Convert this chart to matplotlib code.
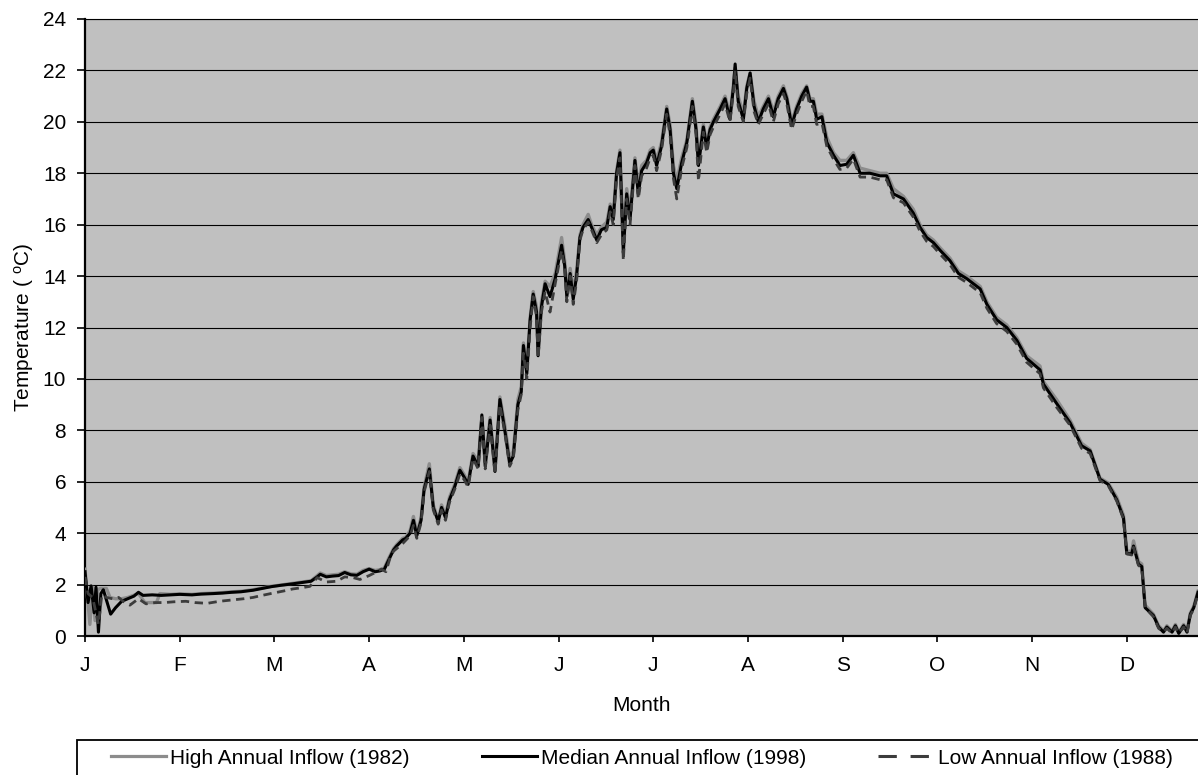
import matplotlib
matplotlib.use('Agg')
import matplotlib.pyplot as plt
from matplotlib.lines import Line2D
from matplotlib.patches import Rectangle

plt.rcParams['font.family'] = ['Liberation Sans', 'DejaVu Sans']
plt.rcParams['mathtext.fontset'] = 'custom'
plt.rcParams['mathtext.rm'] = 'Liberation Sans'

# month tick labels (one tick every 31 day-steps, as in the source chart)
month_labels = ['J', 'F', 'M', 'A', 'M', 'J', 'J', 'A', 'S', 'O', 'N', 'D']
month_ticks = [0, 31, 62, 93, 124, 155, 186, 217, 248, 279, 310, 341]

# Median annual inflow (1998)
med_day = [0, 1, 2, 3, 3.6, 4.4, 5.2, 6, 7, 8.4, 10, 12, 14, 16, 17.5, 19, 22, 25, 28,
           31, 35, 38, 42, 45, 48, 51, 55, 58, 61, 64, 68, 71, 74, 76, 77, 79, 81, 83, 85,
           87, 89, 91, 93, 95, 96.5, 98, 99.3, 101, 102, 104, 105, 106.4, 107.5, 108.6, 110,
           111, 112.7, 114, 115.6, 116.7, 118, 119.3, 121, 122.7, 124, 125.4, 127, 128.7,
           129.9, 131, 132.6, 134.2, 135.8, 137.4, 139, 140.2, 141.7, 142.8, 143.5, 144.6,
           145.7, 146.7, 147.8, 148.3, 149.4, 150.6, 152.2, 153.9, 156, 157, 157.7, 158.8,
           159.8, 160.9, 162, 163, 164.7, 165.8, 167.5, 169, 170.8, 171.9, 172.9, 174, 175.1,
           176.2, 177.3, 178.4, 180, 181.1, 182.2, 183.8, 185, 186, 187.1, 188.7, 190.4,
           191.5, 192.6, 193.7, 195.3, 197, 198.8, 200, 200.8, 202.4, 203.5, 204.6, 205.7,
           207.9, 209.5, 211.1, 212.2, 212.8, 213.8, 215.5, 216.6, 217.7, 219, 220.4, 222,
           223.7, 225.3, 226.9, 228.6, 229.7, 231.3, 232.9, 234.6, 236.2, 237.3, 238.4, 239.5,
           241.2, 242.8, 245, 247.1, 249.3, 251.5, 253.7, 256.9, 260.2, 262.4, 264.6, 267.9,
           271.1, 273.3, 275.5, 277.7, 279.9, 283.1, 285.9, 288.6, 293, 295.2, 298.4, 301.7,
           305, 308.2, 312.6, 313.7, 318, 322.4, 326.2, 329, 332.2, 334.9, 337.7, 339.9, 341,
           342.6, 343.2, 344.8, 345.9, 347, 349.7, 351.4, 353, 354.1, 355.8, 356.9, 358,
           359.6, 360.7, 361.8, 362.9, 364.3]
med_temp = [2.5, 1.3, 1.95, 0.9, 1.9, 0.15, 1.65, 1.8, 1.4, 0.85, 1.1, 1.35, 1.45, 1.55, 1.7,
            1.58, 1.6, 1.58, 1.6, 1.62, 1.6, 1.63, 1.65, 1.67, 1.7, 1.72, 1.78, 1.85, 1.92,
            1.97, 2.03, 2.08, 2.13, 2.3, 2.4, 2.3, 2.33, 2.35, 2.47, 2.38, 2.36, 2.5, 2.6, 2.5,
            2.53, 2.6, 2.93, 3.35, 3.5, 3.74, 3.8, 4.0, 4.5, 3.9, 4.5, 5.7, 6.5, 5.0, 4.45,
            5.0, 4.6, 5.3, 5.8, 6.45, 6.2, 5.9, 7.0, 6.6, 8.6, 6.6, 8.4, 6.4, 9.2, 8.0, 6.7,
            7.0, 9.0, 9.5, 11.3, 10.2, 12.3, 13.3, 12.6, 10.9, 12.8, 13.7, 13.2, 13.9, 15.2,
            14.4, 13.2, 14.1, 13.1, 14.0, 15.5, 15.9, 16.2, 15.9, 15.4, 15.8, 15.9, 16.7, 16.2,
            18.0, 18.8, 14.9, 17.2, 16.2, 18.5, 17.2, 18.1, 18.4, 18.8, 18.9, 18.3, 19.05,
            20.5, 19.7, 18.0, 17.4, 18.4, 19.2, 20.8, 19.7, 18.3, 19.8, 19.0, 19.7, 20.0,
            20.5, 20.9, 20.1, 21.3, 22.25, 20.8, 20.1, 21.3, 21.9, 20.6, 20.0, 20.5, 20.9,
            20.2, 20.9, 21.3, 20.9, 19.85, 20.5, 21.0, 21.35, 20.8, 20.8, 20.1, 20.2, 19.2,
            18.7, 18.3, 18.35, 18.7, 18.0, 18.0, 17.9, 17.9, 17.2, 17.0, 16.45, 15.9, 15.5,
            15.3, 15.0, 14.6, 14.1, 13.9, 13.5, 12.9, 12.3, 12.0, 11.5, 10.8, 10.35, 9.8, 9.05,
            8.3, 7.4, 7.2, 6.1, 5.9, 5.3, 4.6, 3.2, 3.2, 3.5, 2.8, 2.7, 1.1, 0.8, 0.35, 0.15,
            0.35, 0.15, 0.4, 0.1, 0.4, 0.15, 0.85, 1.1, 1.7]

# High annual inflow (1982)
high_day = [0, 1.6, 2.5, 3.3, 4.2, 5, 7, 8.2, 10, 12, 14, 17.5, 19.6, 23.4, 24.5, 28,
            31, 35, 38, 42, 45, 48, 51, 55, 58, 61, 64, 68, 71, 74, 76, 77, 79, 81, 83, 85,
            87, 89, 91, 93, 95, 96.5, 98, 99.3, 101, 102, 104, 105, 106.4, 107.5, 108.6, 110,
            111, 112.7, 114, 115.6, 116.7, 118, 119.3, 121, 122.7, 124, 125.4, 127, 128.7,
            129.9, 131, 132.6, 134.2, 135.8, 137.4, 139, 140.2, 141.7, 142.8, 143.5, 144.6,
            145.7, 146.7, 147.8, 148.3, 149.4, 150.6, 152.2, 153.9, 156, 157, 157.7, 158.8,
            159.8, 160.9, 162, 163, 164.7, 165.8, 167.5, 169, 170.8, 171.9, 172.9, 174, 175.1,
            176.2, 177.3, 178.4, 180, 181.1, 182.2, 183.8, 185, 186, 187.1, 188.7, 190.4,
            191.5, 192.6, 193.7, 195.3, 197, 198.8, 200, 200.8, 202.4, 203.5, 204.6, 205.7,
            207.9, 209.5, 211.1, 212.2, 212.8, 213.8, 215.5, 216.6, 217.7, 219, 220.4, 222,
            223.7, 225.3, 226.9, 228.6, 229.7, 231.3, 232.9, 234.6, 236.2, 237.3, 238.4, 239.5,
            241.2, 242.8, 245, 247.1, 249.3, 251.5, 253.7, 256.9, 260.2, 262.4, 264.6, 267.9,
            271.1, 273.3, 275.5, 277.7, 279.9, 283.1, 285.9, 288.6, 293, 295.2, 298.4, 301.7,
            305, 308.2, 312.6, 313.7, 318, 322.4, 326.2, 329, 332.2, 334.9, 337.7, 339.9, 341,
            342.6, 343.2, 344.8, 345.9, 347, 349.7, 351.4, 353, 354.1, 355.8, 356.9, 358,
            359.6, 360.7, 361.8, 362.9, 364.3]
high_temp = [2.6, 0.45, 1.9, 0.6, 1.8, 1.85, 1.85, 1.5, 1.45, 1.45, 1.5, 1.65, 1.3, 1.3, 1.65,
             1.62, 1.64, 1.62, 1.65, 1.67, 1.69, 1.72, 1.74, 1.8, 1.87, 1.93, 1.98, 2.05, 2.1,
             2.15, 2.35, 2.45, 2.35, 2.38, 2.4, 2.5, 2.42, 2.4, 2.55, 2.62, 2.55, 2.58, 2.65,
             3.0, 3.4, 3.55, 3.8, 3.85, 4.1, 4.65, 4.0, 4.6, 5.8, 6.7, 5.1, 4.5, 5.1, 4.7, 5.4,
             5.9, 6.55, 6.3, 6.0, 7.1, 6.8, 8.5, 6.8, 8.5, 6.6, 9.3, 8.2, 6.9, 7.2, 9.2, 9.7,
             11.4, 10.4, 12.4, 13.4, 12.8, 11.2, 13.0, 13.8, 13.6, 14.1, 15.5, 14.6, 13.5, 14.3,
             13.4, 14.2, 15.6, 16.0, 16.4, 16.0, 15.6, 15.9, 16.1, 16.8, 16.4, 18.1, 18.9, 15.3,
             17.4, 16.5, 18.6, 17.5, 18.3, 18.5, 18.9, 19.0, 18.5, 19.2, 20.6, 19.9, 18.3, 17.7,
             18.6, 19.3, 20.9, 19.9, 18.5, 19.9, 19.2, 19.8, 20.1, 20.6, 21.0, 20.3, 21.4, 22.1,
             21.0, 20.3, 21.4, 21.9, 20.8, 20.2, 20.6, 21.0, 20.4, 21.0, 21.4, 21.0, 20.0, 20.6,
             21.1, 21.4, 20.9, 20.9, 20.3, 20.3, 19.4, 18.8, 18.5, 18.5, 18.8, 18.2, 18.1, 18.0,
             18.0, 17.4, 17.1, 16.6, 16.0, 15.6, 15.4, 15.1, 14.7, 14.2, 14.0, 13.6, 13.0, 12.4,
             12.1, 11.6, 10.9, 10.5, 9.9, 9.2, 8.4, 7.5, 7.25, 6.15, 5.95, 5.4, 4.7, 3.3, 3.3,
             3.7, 2.9, 2.8, 1.2, 0.85, 0.4, 0.2, 0.4, 0.2, 0.45, 0.15, 0.45, 0.2, 0.9, 1.15,
             1.75]

# Low annual inflow (1988)
low_day = [0, 1, 2.5, 4.4, 5.5, 7, 9, 11, 13, 14.7, 17.5, 20, 23, 26, 29, 33, 36, 40, 44,
           48, 52, 55, 58, 61.6, 65, 68, 71, 73.6, 76, 79, 82.4, 85, 87.8, 90, 93, 95, 97,
           98.5, 100, 101, 104, 106.4, 107.5, 108.6, 110, 111, 112.7, 114, 115.6, 116.7, 118,
           119.3, 121, 122.7, 124, 125.4, 127, 128.7, 129.9, 131, 132.6, 134.2, 135.8, 137.4,
           139, 140.2, 141.7, 142.8, 143.5, 144.6, 145.7, 146.7, 147.8, 148.3, 149.4, 150.6,
           152.2, 153.9, 156, 157, 157.7, 158.8, 159.8, 160.9, 162, 163, 164.7, 165.8, 167.5,
           169, 170.8, 171.9, 172.9, 174, 175.1, 176.2, 177.3, 178.4, 180, 181.1, 182.2, 183.8,
           185, 186, 187.1, 188.7, 190.4, 191.5, 192.6, 193.7, 195.3, 197, 198.8, 200, 200.8,
           202.4, 203.5, 204.6, 205.7, 207.9, 209.5, 211.1, 212.2, 212.8, 213.8, 215.5, 216.6,
           217.7, 219, 220.4, 222, 223.7, 225.3, 226.9, 228.6, 229.7, 231.3, 232.9, 234.6,
           236.2, 237.3, 238.4, 239.5, 241.2, 242.8, 245, 247.1, 249.3, 251.5, 253.7, 256.9,
           260.2, 262.4, 264.6, 267.9, 271.1, 273.3, 275.5, 277.7, 279.9, 283.1, 285.9, 288.6,
           293, 295.2, 298.4, 301.7, 305, 308.2, 312.6, 313.7, 318, 322.4, 326.2, 329, 332.2,
           334.9, 337.7, 339.9, 341, 342.6, 343.2, 344.8, 345.9, 347, 349.7, 351.4, 353, 354.1,
           355.8, 356.9, 358, 359.6, 360.7, 361.8, 362.9, 364.3]
low_temp = [2.3, 1.65, 1.5, 0.45, 1.6, 1.5, 1.45, 1.5, 1.3, 1.2, 1.45, 1.25, 1.3, 1.3, 1.33,
            1.35, 1.3, 1.27, 1.35, 1.4, 1.45, 1.5, 1.58, 1.67, 1.75, 1.83, 1.88, 1.93, 2.27,
            2.1, 2.13, 2.3, 2.27, 2.2, 2.35, 2.47, 2.6, 2.5, 3.1, 3.3, 3.6, 3.9, 4.3, 3.8, 4.4,
            5.6, 6.4, 4.9, 4.35, 4.9, 4.5, 5.2, 5.7, 6.3, 6.1, 5.8, 6.9, 6.5, 8.5, 6.5, 8.2,
            6.3, 9.0, 7.9, 6.6, 6.9, 8.8, 9.4, 11.0, 10.0, 12.0, 13.2, 12.4, 10.8, 12.6, 13.4,
            12.6, 13.7, 15.0, 14.3, 13.0, 14.0, 12.9, 13.8, 15.4, 15.8, 16.1, 15.8, 15.3, 15.6,
            15.8, 16.5, 16.0, 17.8, 18.6, 14.6, 17.0, 16.0, 18.3, 17.0, 17.9, 18.2, 18.6, 18.7,
            18.1, 18.9, 20.3, 19.5, 17.8, 17.0, 18.2, 19.0, 20.6, 19.5, 17.7, 19.6, 18.8, 19.5,
            19.8, 20.3, 20.7, 20.0, 21.1, 22.0, 20.6, 20.0, 21.1, 21.7, 20.4, 19.9, 20.3, 20.7,
            20.0, 20.7, 21.1, 20.7, 19.7, 20.3, 20.8, 21.2, 20.6, 20.6, 19.9, 19.95, 19.05,
            18.55, 18.15, 18.2, 18.55, 17.85, 17.85, 17.75, 17.75, 17.05, 16.85, 16.3, 15.75,
            15.35, 15.15, 14.85, 14.45, 13.95, 13.75, 13.35, 12.75, 12.15, 11.85, 11.35, 10.65,
            10.2, 9.65, 8.9, 8.2, 7.3, 7.1, 6.05, 5.85, 5.25, 4.55, 3.2, 3.15, 3.45, 2.75,
            2.65, 1.1, 0.75, 0.3, 0.15, 0.3, 0.1, 0.35, 0.1, 0.35, 0.1, 0.8, 1.05, 1.65]

fs = 15
fig = plt.figure(figsize=(11.98, 7.75), dpi=100)
ax = fig.add_axes([85 / 1198, 1 - 636 / 775, 1 - 85 / 1198, 617 / 775])
ax.set_facecolor('#c0c0c0')

ax.plot(high_day, high_temp, color='#8c8c8c', lw=2.4, zorder=3)
ax.plot(med_day, med_temp, color='black', lw=2.2, zorder=4)
ax.plot(low_day, low_temp, color='#3c3c3c', lw=2.0, ls=(0, (3, 2)), zorder=5)

ax.set_xlim(0, 364.3)
ax.set_ylim(0, 24)
ax.set_yticks(range(0, 25, 2))
ax.set_xticks(month_ticks)
ax.set_xticklabels(month_labels)
ax.yaxis.grid(True, color='black', lw=0.8)
ax.set_axisbelow(True)

ax.spines['right'].set_visible(False)
ax.spines['top'].set_linewidth(0.8)
ax.spines['left'].set_linewidth(1.6)
ax.spines['bottom'].set_linewidth(1.6)
ax.tick_params(axis='y', length=5.5, width=1.2, pad=8, labelsize=fs)
ax.tick_params(axis='x', length=4.5, width=1.2, pad=10, labelsize=fs)

ax.set_xlabel('Month', fontsize=fs)
ax.xaxis.set_label_coords(0.5, -0.097)
ax.set_ylabel('Temperature ( $\\mathregular{^{o}}$C)', fontsize=fs)
ax.yaxis.set_label_coords(-0.044, 0.5)

# legend box (runs off the bottom/right of the picture like the source)
fig.patches.append(Rectangle((76.5 / 1198, -0.05), 1.0, 0.05 + 35 / 775,
                             transform=fig.transFigure, fill=False,
                             edgecolor='black', lw=1.3, clip_on=False))

handles = [Line2D([], [], color='#8c8c8c', lw=2.3),
           Line2D([], [], color='black', lw=2.2),
           Line2D([], [], color='#3c3c3c', lw=2.2, ls=(0, (6, 4.5)))]
labels = ['High Annual Inflow (1982)', 'Median Annual Inflow (1998)', 'Low Annual Inflow (1988)']
fig.legend(handles, labels, loc='center left', bbox_to_anchor=(111 / 1198, 1 - 758 / 775),
           ncol=3, frameon=False, borderpad=0, borderaxespad=0, handlelength=2.65,
           handletextpad=0.2, columnspacing=3.45, fontsize=fs)

fig.savefig('out.png', dpi=100)
